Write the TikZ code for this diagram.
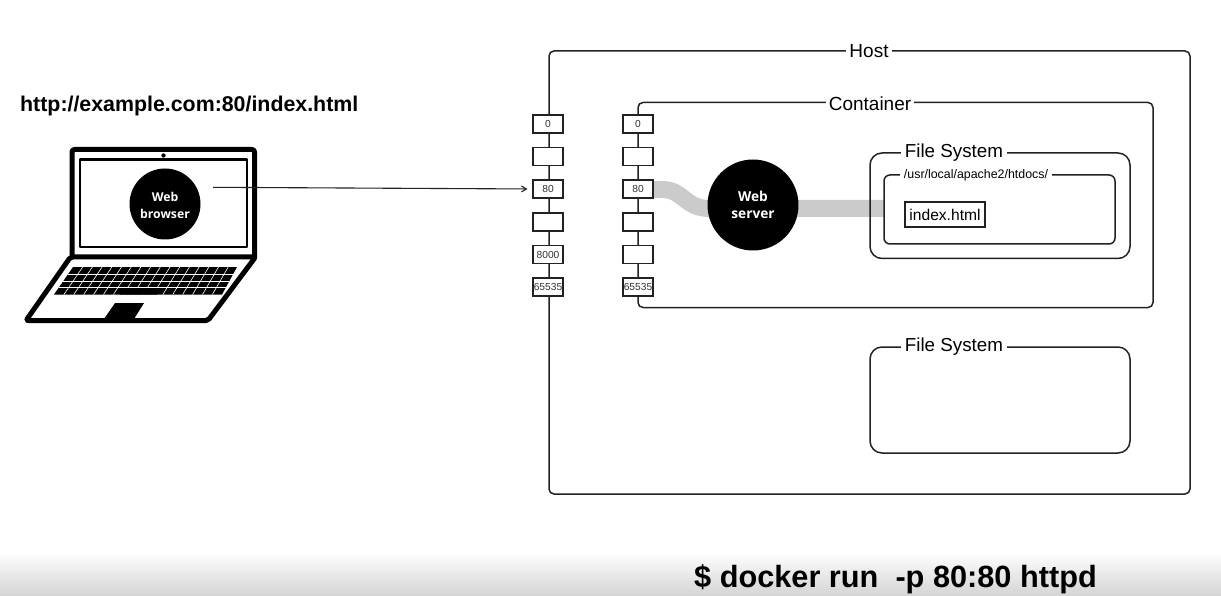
\documentclass[tikz,border=0pt]{standalone}
\usepackage{fontspec}
\setmainfont{Liberation Sans}
\newfontfamily\blobfont{Open Sans}
\usetikzlibrary{arrows.meta,calc}
\newcommand{\fsz}[1]{\fontsize{#1}{#1}\selectfont}
\definecolor{ink}{HTML}{222222}
\definecolor{band}{HTML}{CBCBCB}
\tikzset{
  frame/.style={draw=ink,line width=1.5pt,rounded corners=#1,anchor=north west,inner sep=0pt,outer sep=0pt},
  frame/.default=5pt,
  frametitle/.style={fill=white,inner ysep=0pt,inner xsep=#1,minimum height=16pt,text=black},
  frametitle/.default=3pt,
  portbox/.style={draw=ink,fill=white,line width=1.5pt,minimum width=30pt,minimum height=18pt,inner sep=0pt,outer sep=0pt,text=black!80,font=\fsz{10.2}},
  blob/.style={circle,fill=black,inner sep=0pt,outer sep=0pt,text=white,align=center},
  bandline/.style={draw=band,line width=17pt},
  laptop/.style={draw=black,line join=round},
}
\begin{document}
\begin{tikzpicture}[x=1pt,y=-1pt]
\useasboundingbox (0,0) rectangle (1221,596);
\fill[white] (0,0) rectangle (1221,596);
\shade[top color=white,bottom color=black!17] (0,552) rectangle (1221,596);
% url
\node[anchor=base west,inner sep=0pt,font=\fsz{21.35}\bfseries] (url) at (20,112) {http://example.com:80/index.html};
% laptop
\draw[laptop,line width=5pt,rounded corners=2.5pt] (72,258) -- (72,149.5) -- (254.5,149.5) -- (254.5,258);
\draw[laptop,line width=2.5pt] (80,159.5) rectangle (247,247);
\fill[black] (163.5,155.5) circle (2.2pt);
\draw[laptop,line width=5pt,rounded corners=2pt] (70.5,257) -- (255.5,257) -- (208,320.5) -- (26,320.5) -- cycle;
\begin{scope}
\clip (73,267) -- (237,267) -- (222,294.5) -- (54,294.5) -- cycle;
\fill[black] (50,265) rectangle (240,296);
\foreach \k in {1,2,3} \draw[white,line width=.6pt] (50,{267+6.9*\k}) -- (240,{267+6.9*\k});
\foreach \k in {1,...,16} \draw[white,line width=.6pt] ({73+9.7*\k},267) -- ({54+9.9*\k},294.5);
\fill[black] (124,288) -- (161,288) -- (157,294.5) -- (120,294.5) -- cycle;
\end{scope}
\fill[black] (115,303) -- (144,303) -- (134,319) -- (104,319) -- cycle;
\node[blob,minimum size=71pt] (browser) at (165,204) {};
\node[inner sep=0pt,text=white,font=\blobfont\bfseries\fsz{12.2}] (browserA) at (165,197) {Web};
\node[inner sep=0pt,text=white,font=\blobfont\bfseries\fsz{12.2}] (browserB) at (165,214) {browser};
\coordinate (sendpt) at (213,187.3);
% band
\coordinate (bandA) at (650,189.5);
\coordinate (bandB) at (753,208.5);
\coordinate (bandC) at (884,208.5);
\draw[bandline] (bandA) -- (662,189.5) .. controls (684,189.5) and (684,208.5) .. (710,208.5) -- (bandB) -- (bandC);
% frames
\node[frame,minimum width=641pt,minimum height=443pt] (host) at (549,51) {};
\node[frametitle,font=\fsz{19}] (hostT) at (869,51) {Host};
\node[frame,minimum width=515pt,minimum height=205pt] (cont) at (638,102.5) {};
\node[frametitle,font=\fsz{19}] (contT) at (870,104) {Container};
\node[frame=12pt,minimum width=260pt,minimum height=105.5pt] (fsa) at (870,153) {};
\node[frametitle=4pt,font=\fsz{18.8}] (fsaT) at (954,152.5) {File System};
\node[frame=6pt,minimum width=231pt,minimum height=69pt] (inner) at (884,175) {};
\node[frametitle=4pt,font=\fsz{12.4},minimum height=10pt] (innerT) at (976,175.5) {/usr/local/apache2/htdocs/};
\node[draw=ink,line width=1.5pt,fill=white,minimum width=80pt,minimum height=25pt,inner sep=0pt,outer sep=0pt,font=\fsz{15.6}] (index) at (945,214.5) {index.html};
\node[frame=12pt,minimum width=260pt,minimum height=106pt] (fsb) at (870,347) {};
\node[frametitle=4pt,font=\fsz{18.8}] (fsbT) at (954,346.5) {File System};
% ports
\node[portbox] (h0) at (548,124) {0};
\node[portbox] (h1) at (548,156.5) {};
\node[portbox] (h80) at (548,189) {80};
\node[portbox] (h3) at (548,222) {};
\node[portbox] (h8000) at (548,254.5) {8000};
\node[portbox] (h65535) at (548,287) {65535};
\node[portbox] (c0) at (638,124) {0};
\node[portbox] (c1) at (638,156.5) {};
\node[portbox] (c80) at (638,189) {80};
\node[portbox] (c3) at (638,222) {};
\node[portbox] (c4) at (638,254.5) {};
\node[portbox] (c65535) at (638,287) {65535};
% web server
\node[blob,minimum size=91pt] (server) at (753,205) {};
\node[inner sep=0pt,text=white,font=\blobfont\bfseries\fsz{13.7}] (serverA) at (753,196.5) {Web};
\node[inner sep=0pt,text=white,font=\blobfont\bfseries\fsz{13.7}] (serverB) at (753,214.5) {server};
% arrow
\draw[ink,line width=1.1pt,-{Straight Barb[length=5pt,width=6pt]},shorten >=5.5pt] (sendpt) -- (h80.west);
% command
\node[anchor=base west,inner sep=0pt,font=\fsz{30.7}\bfseries] (cmd) at (694,587) {\$ docker run\hspace{.278em} -p 80:80 httpd};
\end{tikzpicture}
\end{document}
